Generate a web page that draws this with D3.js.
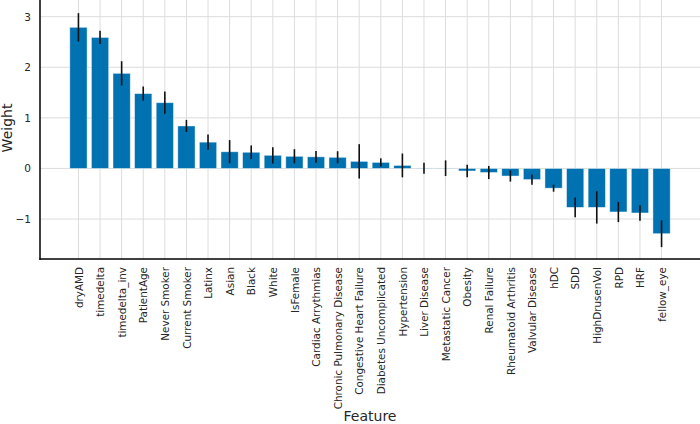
<!DOCTYPE html>
<html><head><meta charset="utf-8">
<script src="https://cdn.jsdelivr.net/npm/d3@7"></script>
<style>body{margin:0;background:#fff}svg{display:block;font-family:"DejaVu Sans",sans-serif}</style>
</head><body><svg id="c" width="700" height="424"></svg>
<script>
const features = ["dryAMD","timedelta","timedelta_inv","PatientAge","Never Smoker","Current Smoker","Latinx","Asian","Black","White","IsFemale","Cardiac Arrythmias","Chronic Pulmonary Disease","Congestive Heart Failure","Diabetes Uncomplicated","Hypertension","Liver Disease","Metastatic Cancer","Obesity","Renal Failure","Rheumatoid Arthritis","Valvular Disease","hDC","SDD","HighDrusenVol","RPD","HRF","fellow_eye"];
const weights = [2.79,2.59,1.88,1.48,1.30,0.84,0.52,0.33,0.32,0.26,0.24,0.23,0.22,0.14,0.12,0.06,0.005,0.005,-0.05,-0.08,-0.15,-0.22,-0.39,-0.77,-0.77,-0.86,-0.88,-1.29];
const errors = [0.28,0.13,0.24,0.14,0.22,0.12,0.15,0.23,0.135,0.16,0.14,0.115,0.12,0.34,0.08,0.235,0.11,0.155,0.125,0.13,0.11,0.10,0.07,0.195,0.32,0.2,0.155,0.265];
const yTicks = [-1,0,1,2,3];

const svg = d3.select("#c");
const L = 40, R = 700, T = 0, B = 259;
const x = d3.scalePoint().domain(features).range([L, R]).padding(1.78);
const y = d3.scaleLinear().domain([-1.79, 3.33]).range([B, T]);
const bw = x.step() * 0.8;

const g = svg.append("g");
// grid
g.selectAll(".vg").data(features).enter().append("line")
  .attr("x1", d => x(d)).attr("x2", d => x(d)).attr("y1", T).attr("y2", B)
  .attr("stroke", "#dcdcdc").attr("stroke-width", 1);
g.selectAll(".hg").data(yTicks).enter().append("line")
  .attr("x1", L).attr("x2", R).attr("y1", d => y(d)).attr("y2", d => y(d))
  .attr("stroke", "#dcdcdc").attr("stroke-width", 1);

const data = features.map((f, i) => ({f, w: weights[i], e: errors[i]}));
// bars
g.selectAll(".bar").data(data).enter().append("rect")
  .attr("x", d => x(d.f) - bw / 2).attr("width", bw)
  .attr("y", d => y(Math.max(0, d.w))).attr("height", d => Math.abs(y(d.w) - y(0)))
  .attr("fill", "#0072b2").attr("stroke", "rgba(255,255,255,0.55)").attr("stroke-width", 0.8);
// error bars
g.selectAll(".err").data(data).enter().append("line")
  .attr("x1", d => x(d.f)).attr("x2", d => x(d.f))
  .attr("y1", d => y(d.w + d.e)).attr("y2", d => y(d.w - d.e))
  .attr("stroke", "#111").attr("stroke-width", 1.6);

// axes
const ya = svg.append("g").attr("transform", `translate(${L},0)`)
  .call(d3.axisLeft(y).tickValues(yTicks).tickSize(0).tickPadding(9).tickFormat(d => d < 0 ? "\u2212" + Math.abs(d) : d));
ya.select(".domain").remove();
ya.selectAll("text").attr("font-size", "10.5px").attr("fill", "#262626").attr("font-family", "DejaVu Sans");

const xa = svg.append("g").attr("transform", `translate(0,${B})`)
  .call(d3.axisBottom(x).tickSize(0).tickPadding(0));
xa.select(".domain").remove();
xa.selectAll("text")
  .attr("font-size", "10.4px").attr("fill", "#262626").attr("font-family", "DejaVu Sans")
  .attr("transform", "translate(0,8) rotate(-90)")
  .attr("text-anchor", "end").attr("dy", "0.35em").attr("y", 0).attr("x", 0);

// spines
svg.append("line").attr("x1", L).attr("x2", L).attr("y1", T).attr("y2", B + 0.75).attr("stroke", "#000").attr("stroke-width", 1.5);
svg.append("line").attr("x1", L - 0.75).attr("x2", R).attr("y1", B).attr("y2", B).attr("stroke", "#000").attr("stroke-width", 1.5);

// labels
svg.append("text").attr("transform", "translate(11.5,128) rotate(-90)").attr("text-anchor", "middle")
  .attr("font-size", "14px").attr("fill", "#262626").text("Weight");
svg.append("text").attr("x", 370).attr("y", 421).attr("text-anchor", "middle")
  .attr("font-size", "14px").attr("fill", "#262626").text("Feature");
</script></body></html>
